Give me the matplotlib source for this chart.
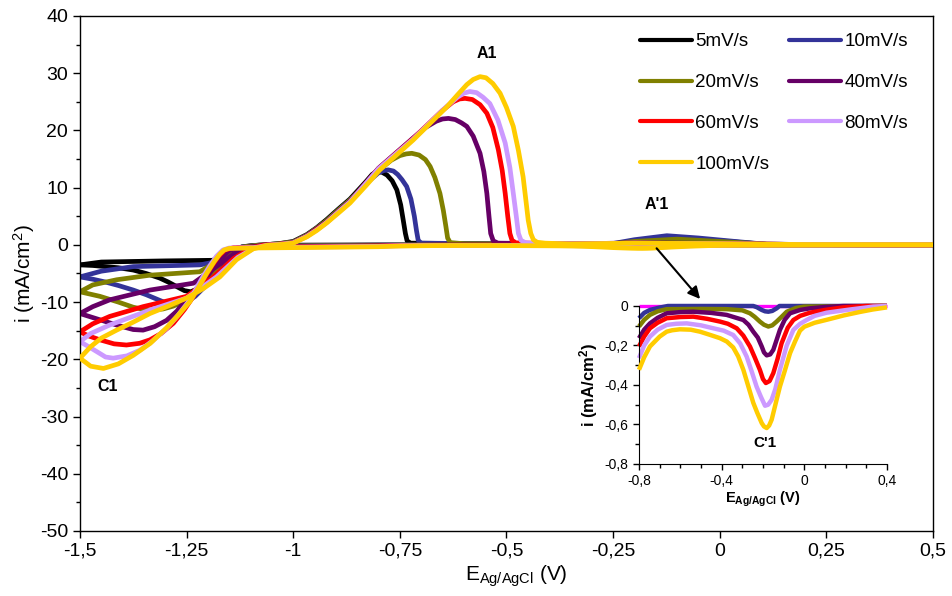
import numpy as np
import matplotlib
matplotlib.use("Agg")
import matplotlib.pyplot as plt
from matplotlib.ticker import MultipleLocator, FuncFormatter

plt.rcParams["font.family"] = "Liberation Sans"
plt.rcParams["mathtext.fontset"] = "custom"
plt.rcParams["mathtext.rm"] = "Liberation Sans"
plt.rcParams["mathtext.bf"] = "Liberation Sans:bold"
plt.rcParams["mathtext.it"] = "Liberation Sans:italic"

# =========================
# DATA
# =========================

labels = ["5mV/s", "10mV/s", "20mV/s", "40mV/s", "60mV/s", "80mV/s", "100mV/s"]
colors = ["#000000", "#333399", "#808000", "#660066", "#FF0000", "#CC99FF", "#FFCC00"]
inset_colors = ["#FF00FF", "#333399", "#808000", "#660066", "#FF0000", "#CC99FF", "#FFCC00"]

# cathodic scans (0.5 V -> -1.5 V)
cat_E_5 = [0.5, 0.4, 0.0, -0.4, -0.8, -1.0, -1.10, -1.12, -1.135, -1.15, -1.17, -1.19, -1.21, -1.225, -1.24,
           -1.255, -1.273, -1.293, -1.313, -1.345, -1.375, -1.41, -1.44, -1.47, -1.5]
cat_i_5 = [0, 0, 0, 0, 0, -0.05, -0.15, -0.35, -0.9, -1.8, -3.4, -5.2, -6.8, -7.7, -8.2,
           -8.0, -7.3, -6.5, -5.8, -5.0, -4.4, -4.0, -3.8, -3.6, -3.5]

cat_E_10 = [0.5, 0.4, -0.12, -0.134, -0.155, -0.174, -0.19, -0.206, -0.23, -0.247, -0.66, -0.7, -0.747, -0.775,
            -0.8, -0.95, -1.10, -1.12, -1.135, -1.15, -1.17, -1.19, -1.21, -1.23, -1.25, -1.27, -1.29, -1.313,
            -1.345, -1.375, -1.41, -1.44, -1.47, -1.5]
cat_i_10 = [0, 0, 0, -0.012, -0.025, -0.029, -0.027, -0.02, -0.006, 0, 0, -0.008, -0.02, -0.035,
            -0.062, -0.12, -0.2, -0.35, -0.8, -1.7, -3.4, -5.4, -7.5, -9.0, -10.0, -10.5, -10.4, -9.7,
            -8.7, -7.9, -7.1, -6.5, -6.0, -5.6]

cat_E_20 = [0.5, 0.4, 0.0, -0.04, -0.085, -0.11, -0.134, -0.155, -0.174, -0.195, -0.215, -0.24, -0.263, -0.3,
            -0.376, -0.5, -0.666, -0.71, -0.747, -0.775, -0.8, -0.95, -1.10, -1.125, -1.14, -1.155, -1.175,
            -1.20, -1.22, -1.24, -1.26, -1.281, -1.305, -1.328, -1.35, -1.375, -1.41, -1.453, -1.5]
cat_i_20 = [0, 0, -0.003, -0.01, -0.029, -0.055, -0.079, -0.098, -0.104, -0.095, -0.079, -0.055, -0.037, -0.022,
            -0.016, -0.015, -0.016, -0.027, -0.045, -0.07, -0.104, -0.17, -0.26, -0.45, -0.9, -1.8, -3.6,
            -6.0, -7.7, -8.9, -9.9, -10.7, -11.2, -11.4, -11.3, -10.9, -10.0, -9.0, -8.2]

cat_E_40 = [0.5, 0.4, 0.189, 0.1, 0.027, -0.02, -0.069, -0.095, -0.118, -0.135, -0.15, -0.165, -0.182, -0.195,
            -0.206, -0.225, -0.247, -0.27, -0.295, -0.376, -0.45, -0.537, -0.6, -0.666, -0.71, -0.747, -0.775,
            -0.8, -0.95, -1.10, -1.13, -1.15, -1.17, -1.19, -1.21, -1.23, -1.25, -1.273, -1.297, -1.325,
            -1.352, -1.375, -1.41, -1.453, -1.5]
cat_i_40 = [0, 0, 0, -0.005, -0.012, -0.02, -0.037, -0.07, -0.121, -0.175, -0.222, -0.245, -0.25, -0.235,
            -0.205, -0.16, -0.13, -0.095, -0.071, -0.045, -0.035, -0.029, -0.031, -0.037, -0.06, -0.088, -0.12,
            -0.163, -0.26, -0.36, -0.5, -1.0, -2.4, -4.4, -6.3, -8.0, -9.5, -11.6, -13.2, -14.3,
            -14.9, -14.8, -14.1, -13.1, -12.0]

cat_E_60 = [0.5, 0.4, 0.3, 0.189, 0.1, 0.027, -0.02, -0.053, -0.08, -0.11, -0.13, -0.15, -0.168, -0.186, -0.2,
            -0.215, -0.24, -0.263, -0.295, -0.327, -0.37, -0.408, -0.47, -0.537, -0.6, -0.666, -0.71, -0.747,
            -0.775, -0.8, -0.95, -1.10, -1.14, -1.16, -1.175, -1.19, -1.21, -1.234, -1.255, -1.281, -1.31,
            -1.336, -1.36, -1.391, -1.42, -1.453, -1.48, -1.5]
cat_i_60 = [0, 0, 0, -0.007, -0.02, -0.034, -0.05, -0.071, -0.11, -0.189, -0.27, -0.34, -0.38, -0.39, -0.37,
            -0.323, -0.26, -0.205, -0.15, -0.113, -0.09, -0.079, -0.065, -0.054, -0.056, -0.062, -0.085, -0.113,
            -0.155, -0.205, -0.32, -0.42, -0.5, -0.9, -2.0, -3.6, -6.0, -9.0, -11.3, -13.7, -15.5,
            -16.6, -17.2, -17.5, -17.3, -16.6, -15.9, -15.2]

cat_E_80 = [0.5, 0.4, 0.334, 0.22, 0.108, 0.05, 0.011, -0.02, -0.053, -0.085, -0.118, -0.14, -0.158, -0.175,
            -0.19, -0.21, -0.231, -0.255, -0.279, -0.31, -0.344, -0.39, -0.44, -0.5, -0.569, -0.62, -0.666,
            -0.71, -0.747, -0.775, -0.8, -0.95, -1.10, -1.15, -1.165, -1.18, -1.195, -1.215, -1.242, -1.27,
            -1.297, -1.33, -1.359, -1.39, -1.422, -1.44, -1.453, -1.475, -1.5]
cat_i_80 = [0, 0, -0.003, -0.018, -0.034, -0.05, -0.071, -0.09, -0.121, -0.2, -0.323, -0.42, -0.475, -0.5,
            -0.505, -0.46, -0.408, -0.33, -0.256, -0.19, -0.147, -0.125, -0.113, -0.098, -0.088, -0.09, -0.096,
            -0.12, -0.155, -0.2, -0.264, -0.38, -0.48, -0.55, -0.9, -2.0, -3.6, -6.0, -9.6, -12.3,
            -14.6, -16.8, -18.4, -19.4, -19.8, -19.6, -19.0, -18.0, -16.9]

cat_E_100 = [0.5, 0.4, 0.33, 0.27, 0.19, 0.108, 0.05, 0.0, -0.021, -0.045, -0.069, -0.095, -0.118, -0.14,
             -0.158, -0.17, -0.182, -0.195, -0.206, -0.228, -0.247, -0.27, -0.295, -0.32, -0.344, -0.375,
             -0.408, -0.46, -0.505, -0.55, -0.602, -0.64, -0.666, -0.7, -0.747, -0.775, -0.8, -0.95, -1.10,
             -1.15, -1.162, -1.172, -1.185, -1.203, -1.22, -1.242, -1.27, -1.297, -1.335, -1.375, -1.41,
             -1.445, -1.475, -1.5]
cat_i_100 = [0, -0.007, -0.018, -0.03, -0.048, -0.07, -0.085, -0.105, -0.125, -0.18, -0.239, -0.33, -0.408, -0.5,
             -0.576, -0.605, -0.618, -0.61, -0.593, -0.54, -0.49, -0.41, -0.323, -0.255, -0.21, -0.18,
             -0.163, -0.145, -0.13, -0.12, -0.118, -0.123, -0.13, -0.155, -0.205, -0.26, -0.323, -0.45, -0.55,
             -0.62, -0.9, -1.6, -2.9, -5.0, -7.2, -9.9, -12.3, -14.5, -17.2, -19.3, -20.8,
             -21.6, -21.2, -19.8]

# anodic scans (-1.5 V -> 0.5 V)
an_E_5 = [-1.5, -1.45, -1.3, -1.19, -1.15, -1.12, -1.09, -1.06, -1.03, -1.0, -0.968, -0.945, -0.922, -0.895,
          -0.867, -0.83, -0.815, -0.804, -0.792, -0.78, -0.768, -0.757, -0.748, -0.742, -0.737, -0.733,
          -0.725, -0.4, -0.26, -0.2, -0.15, -0.05, 0.0, 0.11, 0.5]
an_i_5 = [-3.5, -3.0, -2.8, -2.7, -2.0, -0.6, -0.1, 0.05, 0.25, 0.6, 1.8, 3.0, 4.4, 6.2,
          8.0, 11.0, 12.3, 12.8, 12.7, 12.2, 11.2, 9.6, 7.0, 4.3, 2.0, 0.7,
          0.3, 0.1, 0.1, 0.5, 0.8, 0.8, 0.7, 0.1, 0]

an_E_10 = [-1.5, -1.45, -1.375, -1.219, -1.156, -1.12, -1.09, -1.06, -1.03, -1.0, -0.968, -0.945, -0.922, -0.895,
           -0.867, -0.82, -0.80, -0.787, -0.777, -0.765, -0.755, -0.745, -0.734, -0.724, -0.716, -0.711,
           -0.707, -0.70, -0.4, -0.26, -0.2, -0.124, -0.05, 0.05, 0.11, 0.5]
an_i_10 = [-5.6, -4.6, -3.8, -3.5, -2.6, -0.8, -0.1, 0.05, 0.2, 0.5, 1.7, 2.9, 4.2, 6.0,
           7.8, 11.3, 12.6, 13.0, 13.1, 12.9, 12.3, 11.4, 10.2, 8.0, 5.0, 2.5,
           0.8, 0.3, 0.1, 0.1, 0.9, 1.6, 1.2, 0.5, 0.1, 0]

an_E_20 = [-1.5, -1.47, -1.414, -1.336, -1.219, -1.172, -1.14, -1.11, -1.08, -1.04, -1.0, -0.968, -0.945, -0.922,
           -0.895, -0.867, -0.80, -0.77, -0.75, -0.735, -0.722, -0.705, -0.69, -0.679, -0.668, -0.656,
           -0.648, -0.642, -0.638, -0.632, -0.6, -0.4, -0.26, -0.2, -0.1, 0.0, 0.11, 0.3, 0.5]
an_i_20 = [-8.2, -7.0, -6.1, -5.3, -4.7, -2.6, -1.0, -0.3, -0.05, 0.15, 0.5, 1.7, 2.9, 4.2,
           6.0, 7.8, 13.0, 14.8, 15.6, 15.9, 16.0, 15.7, 14.9, 13.7, 11.8, 9.0,
           6.0, 3.2, 1.2, 0.4, 0.2, 0.1, 0.1, 0.6, 1.0, 0.6, 0.1, 0.05, 0]

an_E_40 = [-1.5, -1.47, -1.43, -1.336, -1.234, -1.18, -1.14, -1.10, -1.07, -1.035, -1.0, -0.968, -0.945, -0.922,
           -0.895, -0.867, -0.80, -0.72, -0.69, -0.665, -0.65, -0.636, -0.62, -0.605, -0.593, -0.578,
           -0.562, -0.553, -0.546, -0.541, -0.537, -0.531, -0.52, -0.35, -0.2, 0.0, 0.2, 0.5]
an_i_40 = [-12.0, -10.8, -9.6, -7.9, -6.7, -3.8, -1.6, -0.4, -0.05, 0.1, 0.4, 1.6, 2.8, 4.0,
           5.8, 7.6, 13.4, 18.6, 20.5, 21.6, 22.0, 22.1, 21.9, 21.3, 20.7, 19.0,
           16.0, 12.8, 9.0, 5.0, 2.0, 0.7, 0.3, 0.15, 0.35, 0.25, 0.05, 0]

an_E_60 = [-1.5, -1.47, -1.43, -1.352, -1.25, -1.187, -1.14, -1.10, -1.07, -1.035, -1.0, -0.968, -0.945, -0.922,
           -0.895, -0.867, -0.80, -0.72, -0.65, -0.625, -0.61, -0.597, -0.58, -0.562, -0.546, -0.532,
           -0.519, -0.51, -0.503, -0.497, -0.492, -0.487, -0.478, -0.35, -0.2, 0.0, 0.2, 0.5]
an_i_60 = [-15.2, -13.8, -12.5, -10.8, -9.0, -5.6, -2.4, -0.6, -0.05, 0.1, 0.35, 1.5, 2.7, 3.9,
           5.7, 7.5, 13.3, 18.5, 23.5, 25.0, 25.5, 25.6, 25.4, 24.5, 23.0, 20.5,
           16.6, 13.0, 9.0, 5.0, 2.0, 0.8, 0.35, 0.15, 0.3, 0.2, 0.05, 0]

an_E_80 = [-1.5, -1.475, -1.43, -1.336, -1.25, -1.18, -1.13, -1.09, -1.06, -1.03, -1.0, -0.968, -0.945, -0.922,
           -0.895, -0.867, -0.80, -0.72, -0.64, -0.615, -0.60, -0.586, -0.57, -0.555, -0.539, -0.52,
           -0.503, -0.492, -0.484, -0.477, -0.472, -0.466, -0.455, -0.35, -0.2, 0.0, 0.2, 0.5]
an_i_80 = [-16.9, -15.5, -14.0, -11.4, -9.3, -5.6, -2.2, -0.5, -0.05, 0.1, 0.35, 1.5, 2.6, 3.9,
           5.7, 7.5, 13.3, 18.4, 24.2, 25.8, 26.5, 26.8, 26.6, 25.8, 24.7, 21.8,
           17.8, 13.5, 9.0, 5.0, 2.0, 0.8, 0.35, 0.15, 0.3, 0.2, 0.05, 0]

an_E_100 = [-1.5, -1.475, -1.45, -1.414, -1.375, -1.336, -1.29, -1.25, -1.21, -1.172, -1.133, -1.094, -1.062,
            -1.03, -1.0, -0.968, -0.945, -0.922, -0.895, -0.867, -0.83, -0.797, -0.719, -0.64, -0.615, -0.593,
            -0.578, -0.562, -0.548, -0.532, -0.515, -0.50, -0.484, -0.472, -0.461, -0.454, -0.449, -0.443,
            -0.437, -0.428, -0.41, -0.35, -0.2, 0.0, 0.2, 0.5]
an_i_100 = [-19.8, -17.8, -16.3, -14.9, -13.5, -12.0, -10.6, -9.3, -7.6, -5.6, -2.6, -0.7, -0.1,
            0.05, 0.3, 1.4, 2.5, 3.8, 5.5, 7.3, 10.3, 13.1, 18.3, 24.1, 26.2, 28.0,
            28.9, 29.4, 29.2, 28.2, 26.5, 24.0, 20.7, 16.5, 11.9, 7.5, 4.3, 2.0,
            0.9, 0.45, 0.3, 0.15, 0.3, 0.2, 0.05, 0]

cat_E = [cat_E_5, cat_E_10, cat_E_20, cat_E_40, cat_E_60, cat_E_80, cat_E_100]
cat_i = [cat_i_5, cat_i_10, cat_i_20, cat_i_40, cat_i_60, cat_i_80, cat_i_100]
an_E = [an_E_5, an_E_10, an_E_20, an_E_40, an_E_60, an_E_80, an_E_100]
an_i = [an_i_5, an_i_10, an_i_20, an_i_40, an_i_60, an_i_80, an_i_100]


def comma(v, pos):
    v = round(v, 6)
    if abs(v) < 1e-9:
        return "0"
    return f"{v:g}".replace(".", ",")


# =========================
# PLOT
# =========================

fig = plt.figure(figsize=(9.53, 5.96), dpi=100)
ax = fig.add_axes([0.0839, 0.1091, 0.8951, 0.8641])

handles = []
for k in range(len(labels)):
    (h,) = ax.plot(cat_E[k], cat_i[k], color=colors[k], lw=3.4, label=labels[k],
                   solid_capstyle="round", solid_joinstyle="round", zorder=2 + 0.1 * k)
    ax.plot(an_E[k], an_i[k], color=colors[k], lw=3.4,
            solid_capstyle="round", solid_joinstyle="round", zorder=2 + 0.1 * k)
    handles.append(h)

ax.set_xlim(-1.5, 0.5)
ax.set_ylim(-50, 40)
ax.xaxis.set_major_locator(MultipleLocator(0.25))
ax.yaxis.set_major_locator(MultipleLocator(10))
ax.yaxis.set_minor_locator(MultipleLocator(5))
ax.xaxis.set_major_formatter(FuncFormatter(comma))
ax.yaxis.set_major_formatter(FuncFormatter(comma))
ax.tick_params(axis="both", which="major", direction="out", length=5, width=1, labelsize=14)
ax.tick_params(axis="y", which="minor", direction="out", length=3, width=1)
for s in ax.spines.values():
    s.set_linewidth(1)

ax.set_xlabel(r"E$_{\mathrm{Ag/AgCl}}$ (V)", fontsize=15)
ax.xaxis.set_label_coords(0.511, -0.063)
ax.set_ylabel(r"i (mA/cm$^{2}$)", fontsize=15, labelpad=2)

order = [0, 2, 4, 6, 1, 3, 5]
leg = ax.legend([handles[j] for j in order], [labels[j] for j in order], ncol=2,
                loc="upper left", bbox_to_anchor=(640 / 953, 1 - 33 / 596),
                bbox_transform=fig.transFigure, frameon=False, fontsize=13.5,
                handlelength=2.75, handletextpad=0.2, columnspacing=1.05,
                labelspacing=1.27, borderpad=0, borderaxespad=0)
for ln in leg.get_lines():
    ln.set_linewidth(3)

ax.text(-0.546, 33.5, "A1", fontweight="bold", fontsize=11.5, ha="center", va="center")
ax.text(-0.147, 7.1, "A'1", fontweight="bold", fontsize=11.5, ha="center", va="center")
ax.text(-1.434, -24.8, "C1", fontweight="bold", fontsize=11.5, ha="center", va="center")

ax.annotate("", xy=(-0.046, -9.46), xytext=(-0.148, -0.6),
            arrowprops=dict(arrowstyle="-|>", color="black", lw=1.5, mutation_scale=18,
                            shrinkA=0, shrinkB=0))

# =========================
# INSET (C'1 region)
# =========================

ax_in = fig.add_axes([0.6705, 0.2215, 0.2602, 0.2651])
for k in range(len(labels)):
    E = np.array(cat_E[k])
    i = np.array(cat_i[k])
    m = (E >= -0.8) & (E <= 0.4)
    # 5 mV/s drawn thinner underneath so its antialiased edge does not tint the others
    lw = 2.4 if k == 0 else 3.2
    ax_in.plot(E[m], i[m], color=inset_colors[k], lw=lw, clip_on=False,
               solid_capstyle="butt", solid_joinstyle="round", zorder=2 + 0.1 * k)

ax_in.set_xlim(-0.8, 0.4)
ax_in.set_ylim(-0.8, 0)
ax_in.spines["top"].set_visible(False)
ax_in.spines["right"].set_visible(False)
ax_in.xaxis.set_major_locator(MultipleLocator(0.4))
ax_in.xaxis.set_minor_locator(MultipleLocator(0.1))
ax_in.yaxis.set_major_locator(MultipleLocator(0.2))
ax_in.yaxis.set_minor_locator(MultipleLocator(0.1))
ax_in.xaxis.set_major_formatter(FuncFormatter(comma))
ax_in.yaxis.set_major_formatter(FuncFormatter(comma))
ax_in.tick_params(axis="both", which="major", direction="out", length=4, width=1, labelsize=10)
ax_in.tick_params(axis="both", which="minor", direction="out", length=3, width=1)
ax_in.set_xlabel(r"E$_{\mathbf{Ag/AgCl}}$ (V)", fontsize=10.5, fontweight="bold", labelpad=1)
ax_in.set_ylabel(r"i (mA/cm$^{\mathbf{2}}$)", fontsize=12, fontweight="bold", labelpad=3)
ax_in.text(-0.19, -0.694, "C'1", fontweight="bold", fontsize=11, ha="center", va="center")

fig.savefig("out.png", dpi=100)
print("saved")
